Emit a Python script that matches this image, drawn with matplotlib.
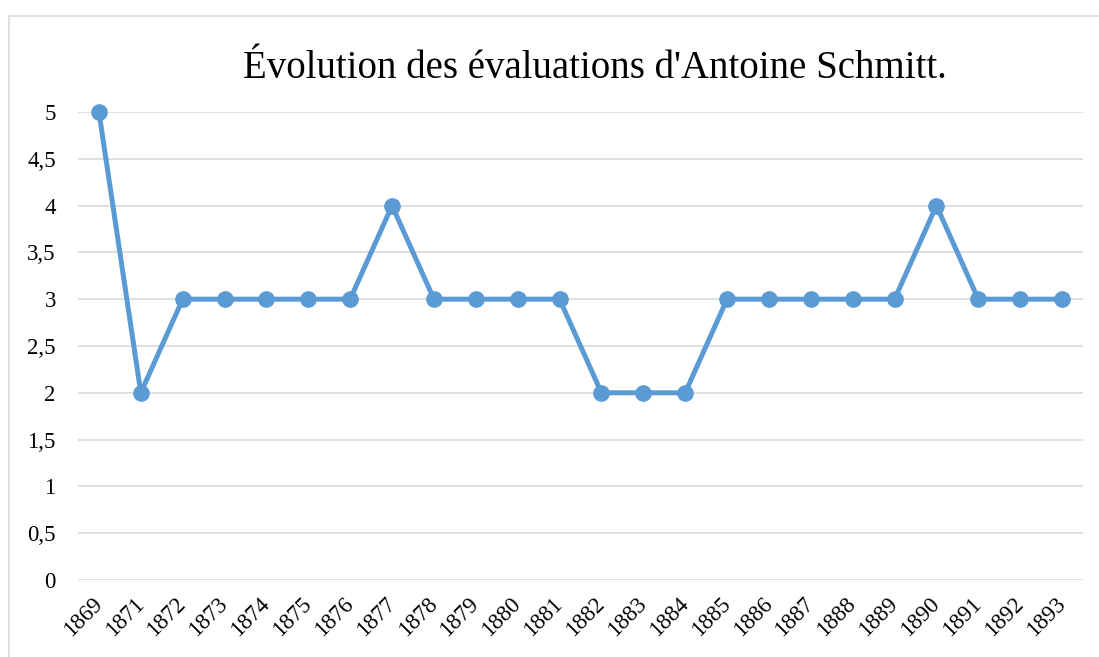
import matplotlib.pyplot as plt
from matplotlib.patches import Rectangle

years = ['1869', '1871', '1872', '1873', '1874', '1875', '1876', '1877', '1878',
         '1879', '1880', '1881', '1882', '1883', '1884', '1885', '1886', '1887',
         '1888', '1889', '1890', '1891', '1892', '1893']
scores = [5, 2, 3, 3, 3, 3, 3, 4, 3, 3, 3, 3, 2, 2, 2, 3, 3, 3, 3, 3, 4, 3, 3, 3]
yticks = [0, 0.5, 1, 1.5, 2, 2.5, 3, 3.5, 4, 4.5, 5]
ytick_labels = ['0', '0,5', '1', '1,5', '2', '2,5', '3', '3,5', '4', '4,5', '5']

plt.rcParams['font.family'] = ['Liberation Serif', 'DejaVu Serif']

W, H = 1099, 657
fig = plt.figure(figsize=(W/100, H/100), dpi=100)
ax = fig.add_axes([78/W, 1-580/H, (1083-78)/W, (580-112)/H])

x = list(range(len(years)))
ax.plot(x, scores, color='#5B9BD5', linewidth=3.6, marker='o', markersize=11,
        solid_joinstyle='round', zorder=3, clip_on=False)

ax.set_xlim(-0.5, len(years)-0.5)
ax.set_ylim(0, 5)
ax.set_yticks(yticks)
ax.set_yticklabels(ytick_labels, fontsize=16.5)
ax.set_xticks(x)
ax.set_xticklabels(years, fontsize=16.5, rotation=45, ha='right', va='center',
                   rotation_mode='anchor')
ax.tick_params(axis='y', length=0, pad=16)
ax.tick_params(axis='x', length=0, pad=15)
ax.grid(axis='y', color='#D9D9D9', linewidth=1.2)
ax.set_axisbelow(True)
for s in ax.spines.values():
    s.set_visible(False)

fig.text(595/W, 1-68/H, "Évolution des évaluations d'Antoine Schmitt.",
         fontsize=28, ha='center', va='center')

# chart frame
fig.patches.append(Rectangle((9/W, -0.1), 1.2, 1-16/H+0.1, transform=fig.transFigure,
                             fill=False, edgecolor='#D9D9D9', linewidth=1.2))

fig.savefig('out.png', dpi=100)
